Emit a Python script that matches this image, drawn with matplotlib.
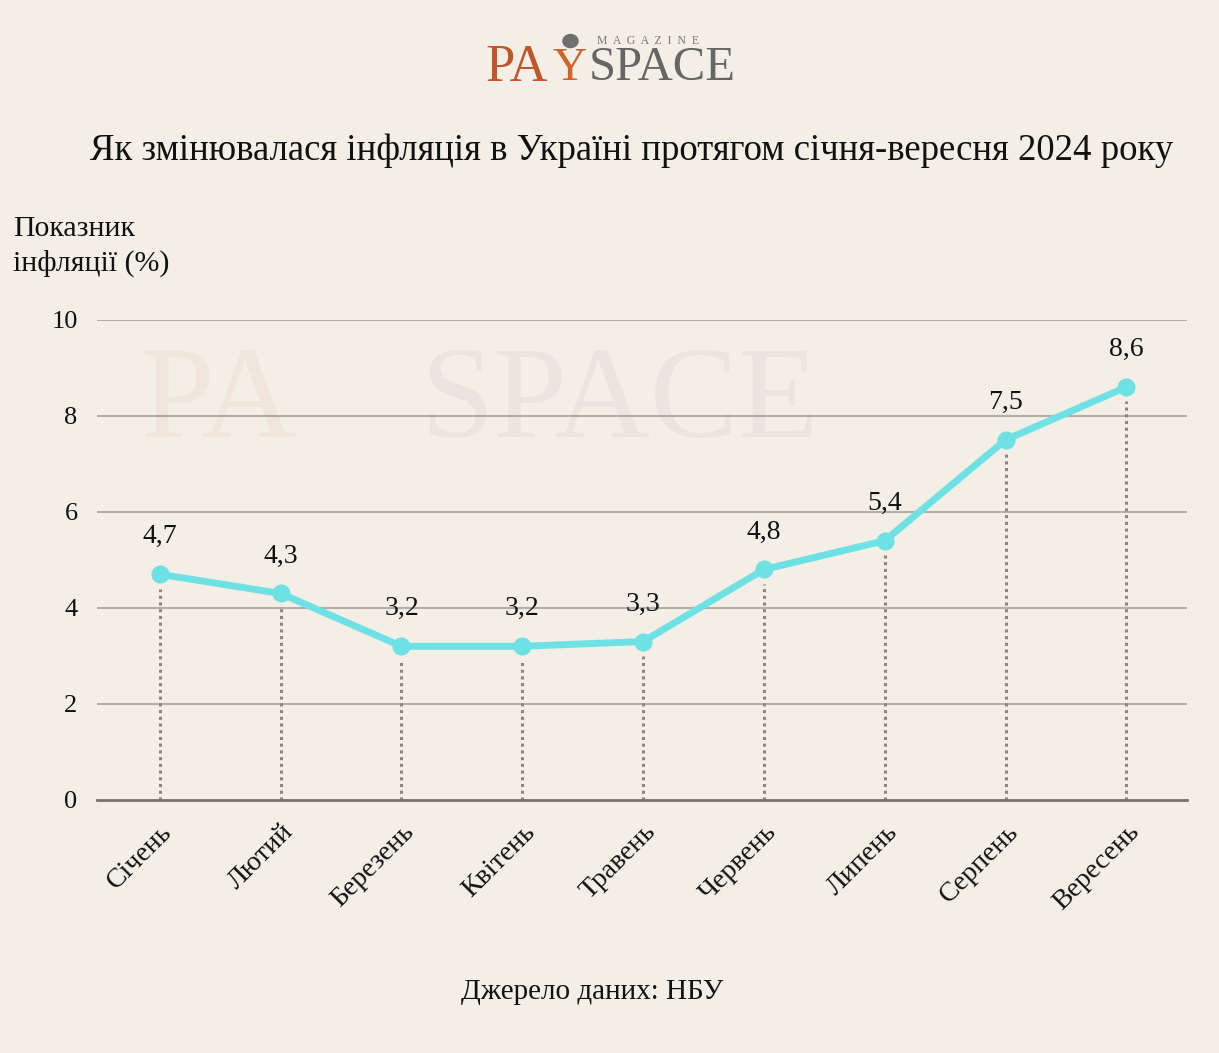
import matplotlib.pyplot as plt
from matplotlib.patches import Circle

plt.rcParams['font.family'] = ['Liberation Serif', 'DejaVu Serif']

# дані
months = ['Січень', 'Лютий', 'Березень', 'Квітень', 'Травень',
          'Червень', 'Липень', 'Серпень', 'Вересень']
inflation = [4.7, 4.3, 3.2, 3.2, 3.3, 4.8, 5.4, 7.5, 8.6]
labels = ['4,7', '4,3', '3,2', '3,2', '3,3', '4,8', '5,4', '7,5', '8,6']
yticks = [0, 2, 4, 6, 8, 10]

bg = '#f3efe7'
line_c = '#6de1e3'

fig = plt.figure(figsize=(12.19, 10.53), dpi=100, facecolor=bg)
ax = fig.add_axes([0.0796, 0.2403, 0.894, 0.456])
ax.set_facecolor(bg)

x = list(range(len(months)))

# вертикальні пунктирні лінії
for xi, yi in zip(x, inflation):
    ax.plot([xi, xi], [0, yi - 0.3], ls=(0, (1, 1.2)), color='#8a8680',
            lw=2.2, zorder=2)

ax.plot(x, inflation, color=line_c, lw=5, marker='o', ms=12,
        solid_capstyle='round', zorder=3)

for xi, yi, lab in zip(x, inflation, labels):
    ax.annotate(lab, (xi, yi), xytext=(0, 18), textcoords='offset points',
                ha='center', va='bottom', fontsize=20, color='#111111')

ax.set_xlim(-0.52, 8.5)
ax.set_ylim(0, 10)
ax.set_yticks(yticks)
ax.set_yticklabels([str(v) for v in yticks], fontsize=19, color='#111111')
ax.set_xticks(x)
ax.set_xticklabels(months, rotation=45, ha='right', rotation_mode='anchor',
                   fontsize=20, color='#111111')
ax.tick_params(axis='both', length=0)
ax.tick_params(axis='y', pad=14)
ax.tick_params(axis='x', pad=14)

for v in yticks[1:]:
    ax.axhline(v, color='#b3afa8', lw=1.5, zorder=1)
for s in ['top', 'right', 'left']:
    ax.spines[s].set_visible(False)
ax.spines['bottom'].set_color('#77736c')
ax.spines['bottom'].set_linewidth(2)

# водяний знак
fig.text(0.115, 0.615, 'PA', fontsize=95, color='#c0562a', alpha=0.06,
         ha='left', va='center')
fig.text(0.345, 0.615, 'SPACE', fontsize=95, color='#666666', alpha=0.06,
         ha='left', va='center')

# логотип
fig.text(0.398, 0.935, 'PA', fontsize=38, color='#c0562a', ha='left',
         va='center')
fig.text(0.453, 0.935, 'Y', fontsize=34, color='#d06428', ha='left',
         va='center')
fig.text(0.483, 0.935, 'SPACE', fontsize=35, color='#666666', ha='left',
         va='center')
fig.text(0.490, 0.961, 'M  A  G  A  Z  I  N  E', fontsize=8.5,
         color='#777777', ha='left', va='center')
fig.patches.append(Circle((0.468, 0.961), 0.0062, transform=fig.transFigure,
                          color='#707070'))

fig.text(0.518, 0.857, 'Як змінювалася інфляція в Україні протягом січня-вересня 2024 року',
         fontsize=26.5, ha='center', va='center', color='#111111')
fig.text(0.011, 0.766, 'Показник\nінфляції (%)', fontsize=21.5,
         ha='left', va='center', color='#111111', linespacing=1.35)
fig.text(0.486, 0.058, 'Джерело даних: НБУ', fontsize=21, ha='center',
         va='center', color='#111111')

fig.savefig('out.png', dpi=100, facecolor=bg)
